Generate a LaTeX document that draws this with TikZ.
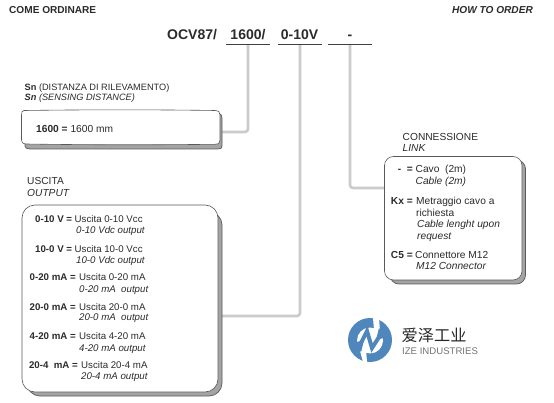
\documentclass[tikz,border=0pt]{standalone}
\usepackage{fontspec}
\setmainfont{Liberation Sans}
\newfontfamily\cjkf{Noto Sans CJK SC}
\definecolor{txt}{HTML}{2B2B2B}
\definecolor{conn}{HTML}{CBCBCB}
\definecolor{shad}{HTML}{A4A4A4}
\definecolor{shadl}{HTML}{5A5A5A}
\definecolor{logob}{HTML}{4F86BC}
\tikzset{
  t/.style={inner sep=0pt,anchor=base west,text=txt,font=\fontsize{9.7}{10}\selectfont},
  tb/.style={t,font=\fontsize{9.7}{10}\selectfont\bfseries},
  ti/.style={t,font=\fontsize{9.7}{10}\selectfont\itshape},
  l/.style={t,font=\fontsize{10.2}{11}\selectfont},
  lb/.style={t,font=\fontsize{10.2}{11}\selectfont\bfseries},
  li/.style={t,font=\fontsize{10.2}{11}\selectfont\itshape},
  sn/.style={t,font=\fontsize{9.2}{10}\selectfont},
  code/.style={inner sep=0pt,anchor=base,text=txt,font=\fontsize{14}{15}\selectfont\bfseries},
  uline/.style={draw=black!75,line width=0.8pt},
  conline/.style={draw=conn,line width=2.6pt,rounded corners=3pt},
  boxf/.style={draw=black!65,fill=white,line width=0.6pt},
  boxs/.style={fill=shad,draw=shadl,line width=0.7pt},
}
\begin{document}
\begin{tikzpicture}[x=1pt,y=-1pt]
\useasboundingbox (0,0) rectangle (554,403);
\fill[white] (0,0) rectangle (554,403);
% headings
\node[t,font=\fontsize{10.1}{11}\selectfont\bfseries] (come) at (9,13.5) {COME ORDINARE};
\node[t,font=\fontsize{10.1}{11}\selectfont\bfseries\itshape] (how) at (452,14) {HOW TO ORDER};
% order code
\node[code,anchor=base west] (ocv) at (167,40) {OCV87/};
\node[code] (c1) at (248,40) {1600/};
\node[code] (c2) at (299.5,40) {0-10V};
\node[code] (c3) at (350,40) {-};
\coordinate (u1a) at (226,44); \coordinate (u1b) at (270,44);
\coordinate (u2a) at (278,44); \coordinate (u2b) at (322,44);
\coordinate (u3a) at (328,44); \coordinate (u3b) at (372,44);
% connectors
\coordinate (k1) at (248,132);
\coordinate (k2) at (300,316);
\coordinate (k3) at (350,188);
\draw[conline] (248,44) -- (k1) -- (222,132);
\draw[conline] (300,44) -- (k2) -- (221,316);
\draw[conline] (350,44) -- (k3) -- (386,188);
\draw[uline] (u1a) -- (u1b);
\draw[uline] (u2a) -- (u2b);
\draw[uline] (u3a) -- (u3b);
% Sn box
\node[sn] (sn1) at (24.5,91) {\textbf{Sn} (DISTANZA DI RILEVAMENTO)};
\node[sn,font=\fontsize{9.2}{10}\selectfont\itshape] (sn2) at (24.5,101) {\textbf{Sn} (SENSING DISTANCE)};
\path[boxs] (25,116) -- (218,113) .. controls (221,114) and (222,115) .. (222,118) -- (222,146) .. controls (222,148) and (221,149) .. (218,149) -- (30,149) .. controls (27,149) and (25,148) .. (25,146) -- cycle;
\path[boxf] (24,110.5) .. controls (90,109.6) and (150,109.6) .. (215,110.5) .. controls (219,111) and (220,112) .. (220,115)
 -- (220,140) .. controls (220,143) and (219,144) .. (215,144.3) .. controls (150,145) and (90,145) .. (26,144) .. controls (22.5,143.5) and (21.5,142.5) .. (21.5,140)
 -- (21.5,115) .. controls (21.5,112) and (22,111) .. (24,110.5) -- cycle;
\node[l] (sn3) at (36,133) {\textbf{1600 =} 1600 mm};
% Output box
\node[l] (us1) at (27,185) {USCITA};
\node[li] (us2) at (27,197) {OUTPUT};
\draw[boxs,rounded corners=13pt] (27,212) rectangle (222,396);
\draw[boxf,rounded corners=13pt] (22,205) rectangle (218,392);
\node[tb,anchor=base east] (a1) at (72.3,222.5) {0-10 V =};
\node[t] (a1t) at (74.5,222.5) {Uscita 0-10 Vcc};
\node[ti] (a1i) at (76,233.5) {0-10 Vdc output};
\node[tb,anchor=base east] (a2) at (72.3,252.5) {10-0 V =};
\node[t] (a2t) at (74.5,252.5) {Uscita 10-0 Vcc};
\node[ti] (a2i) at (76,263.5) {10-0 Vdc output};
\node[tb,anchor=base east] (a3) at (76,281) {0-20 mA =};
\node[t] (a3t) at (79,281) {Uscita 0-20 mA};
\node[ti] (a3i) at (79,292) {0-20 mA\ \ output};
\node[tb,anchor=base east] (a4) at (76,310) {20-0 mA =};
\node[t] (a4t) at (79,310) {Uscita 20-0 mA};
\node[ti] (a4i) at (79,320.5) {20-0 mA\ \ output};
\node[tb,anchor=base east] (a5) at (76,339.5) {4-20 mA =};
\node[t] (a5t) at (79,339.5) {Uscita 4-20 mA};
\node[ti] (a5i) at (79,351) {4-20 mA output};
\node[tb,anchor=base east] (a6) at (78,368) {20-4\ \ mA =};
\node[t] (a6t) at (81,368) {Uscita 20-4 mA};
\node[ti] (a6i) at (81,379.3) {20-4 mA output};
% Link box
\node[l] (li1) at (402.5,141) {CONNESSIONE};
\node[li] (li2) at (402.5,152) {LINK};
\draw[boxs,rounded corners=9pt] (390,160) rectangle (525.5,284);
\draw[boxf,rounded corners=9pt] (384.5,156.5) rectangle (522,280);
\node[lb,anchor=base east] (b1) at (413,172.7) {-\ \ =};
\node[l] (b1t) at (415.5,172.7) {Cavo\ \ (2m)};
\node[li] (b1i) at (415.5,185) {Cable (2m)};
\node[lb,anchor=base east] (b2) at (413,205) {Kx =};
\node[l] (b2t) at (416,205) {Metraggio cavo a};
\node[l] (b2u) at (416,216.5) {richiesta};
\node[li] (b2i) at (417,228) {Cable lenght upon};
\node[li] (b2j) at (417,239.5) {request};
\node[lb,anchor=base east] (b3) at (413,258.3) {C5 =};
\node[l] (b3t) at (415,258.3) {Connettore M12};
\node[li] (b3i) at (416,269.3) {M12 Connector};
% logo
\fill[logob] (370,340) circle (22);
\fill[white] (370,340.5) circle (13);
\draw[logob,line width=4pt,line join=miter] (360,345) -- (367,331) -- (372,348) -- (381,334);
\fill[white] (360,351) -- (366,349) -- (367,362) -- (363,362) -- cycle;
\fill[white] (373,318) -- (379,318) -- (380,331) -- (374,330) -- cycle;
\fill[logob] (361,352) -- (353,343) -- (364,340) -- cycle;
\fill[logob] (379,328) -- (387,337) -- (376,340) -- cycle;
\node[inner sep=0pt,anchor=base west,text=black!85,font=\fontsize{16.2}{17}\cjkf] (lg1) at (401.5,341.5) {爱泽工业};
\node[inner sep=0pt,anchor=base west,text=black!55,font=\fontsize{9.6}{10}\selectfont] (lg2) at (402,354) {IZE INDUSTRIES};
\end{tikzpicture}
\end{document}
